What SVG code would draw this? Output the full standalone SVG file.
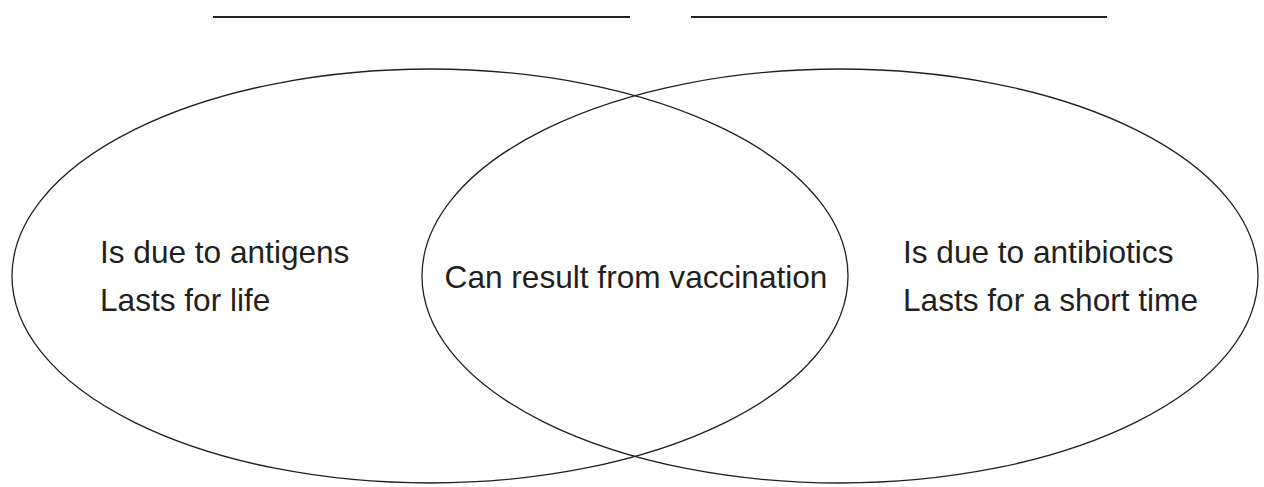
<svg xmlns="http://www.w3.org/2000/svg" width="1264" height="487" viewBox="0 0 1264 487">
<style>
.ell{fill:none;stroke:#231f20;stroke-width:1.3}
.blank{stroke:#231f20;stroke-width:2}
text{font-family:"Liberation Sans",Arial,sans-serif;font-size:31.6px;fill:#231f20}
</style>
<rect width="1264" height="487" fill="#fff"/>
<g id="blanks">
<line class="blank" x1="213" y1="17" x2="630" y2="17"/>
<line class="blank" x1="691" y1="17" x2="1107" y2="17"/>
</g>
<g id="left-set">
<ellipse class="ell" cx="430" cy="276" rx="418" ry="207"/>
<text x="100" y="263">Is due to antigens</text>
<text x="100" y="311">Lasts for life</text>
</g>
<g id="right-set">
<ellipse class="ell" cx="840" cy="276" rx="418" ry="207"/>
<text x="903" y="263">Is due to antibiotics</text>
<text x="903" y="311">Lasts for a short time</text>
</g>
<g id="overlap">
<text x="636" y="288" text-anchor="middle">Can result from vaccination</text>
</g>
<g id="connectors"/>
</svg>
